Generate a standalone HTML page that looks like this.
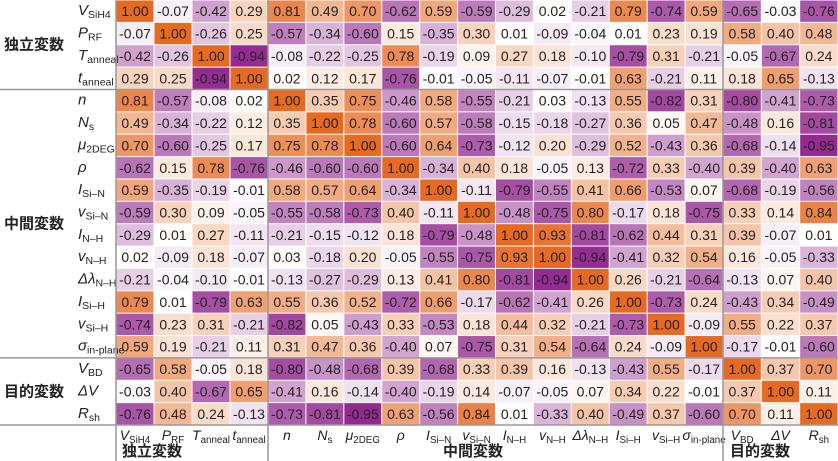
<!DOCTYPE html>
<html><head><meta charset="utf-8"><style>
body{margin:0;background:#fff;}
svg{display:block;font-family:"Liberation Sans","Noto Sans CJK JP",sans-serif;}
</style></head><body>
<svg id="c" width="838" height="461"></svg>
<script>
const rowLabels=[["V","SiH4"],["P","RF"],["T","anneal"],["t","anneal"],["n",""],["N","s"],["μ","2DEG"],["ρ",""],["I","Si–N"],["v","Si–N"],["I","N–H"],["v","N–H"],["Δλ","N–H"],["I","Si–H"],["v","Si–H"],["σ","in-plane"],["V","BD"],["ΔV",""],["R","sh"]];
const groups=[["独立変数",0,4],["中間変数",4,16],["目的変数",16,19]];
const values=[
[1.00,-0.07,-0.42,0.29,0.81,0.49,0.70,-0.62,0.59,-0.59,-0.29,0.02,-0.21,0.79,-0.74,0.59,-0.65,-0.03,-0.76],
[-0.07,1.00,-0.26,0.25,-0.57,-0.34,-0.60,0.15,-0.35,0.30,0.01,-0.09,-0.04,0.01,0.23,0.19,0.58,0.40,0.48],
[-0.42,-0.26,1.00,-0.94,-0.08,-0.22,-0.25,0.78,-0.19,0.09,0.27,0.18,-0.10,-0.79,0.31,-0.21,-0.05,-0.67,0.24],
[0.29,0.25,-0.94,1.00,0.02,0.12,0.17,-0.76,-0.01,-0.05,-0.11,-0.07,-0.01,0.63,-0.21,0.11,0.18,0.65,-0.13],
[0.81,-0.57,-0.08,0.02,1.00,0.35,0.75,-0.46,0.58,-0.55,-0.21,0.03,-0.13,0.55,-0.82,0.31,-0.80,-0.41,-0.73],
[0.49,-0.34,-0.22,0.12,0.35,1.00,0.78,-0.60,0.57,-0.58,-0.15,-0.18,-0.27,0.36,0.05,0.47,-0.48,0.16,-0.81],
[0.70,-0.60,-0.25,0.17,0.75,0.78,1.00,-0.60,0.64,-0.73,-0.12,0.20,-0.29,0.52,-0.43,0.36,-0.68,-0.14,-0.95],
[-0.62,0.15,0.78,-0.76,-0.46,-0.60,-0.60,1.00,-0.34,0.40,0.18,-0.05,0.13,-0.72,0.33,-0.40,0.39,-0.40,0.63],
[0.59,-0.35,-0.19,-0.01,0.58,0.57,0.64,-0.34,1.00,-0.11,-0.79,-0.55,0.41,0.66,-0.53,0.07,-0.68,-0.19,-0.56],
[-0.59,0.30,0.09,-0.05,-0.55,-0.58,-0.73,0.40,-0.11,1.00,-0.48,-0.75,0.80,-0.17,0.18,-0.75,0.33,0.14,0.84],
[-0.29,0.01,0.27,-0.11,-0.21,-0.15,-0.12,0.18,-0.79,-0.48,1.00,0.93,-0.81,-0.62,0.44,0.31,0.39,-0.07,0.01],
[0.02,-0.09,0.18,-0.07,0.03,-0.18,0.20,-0.05,-0.55,-0.75,0.93,1.00,-0.94,-0.41,0.32,0.54,0.16,-0.05,-0.33],
[-0.21,-0.04,-0.10,-0.01,-0.13,-0.27,-0.29,0.13,0.41,0.80,-0.81,-0.94,1.00,0.26,-0.21,-0.64,-0.13,0.07,0.40],
[0.79,0.01,-0.79,0.63,0.55,0.36,0.52,-0.72,0.66,-0.17,-0.62,-0.41,0.26,1.00,-0.73,0.24,-0.43,0.34,-0.49],
[-0.74,0.23,0.31,-0.21,-0.82,0.05,-0.43,0.33,-0.53,0.18,0.44,0.32,-0.21,-0.73,1.00,-0.09,0.55,0.22,0.37],
[0.59,0.19,-0.21,0.11,0.31,0.47,0.36,-0.40,0.07,-0.75,0.31,0.54,-0.64,0.24,-0.09,1.00,-0.17,-0.01,-0.60],
[-0.65,0.58,-0.05,0.18,-0.80,-0.48,-0.68,0.39,-0.68,0.33,0.39,0.16,-0.13,-0.43,0.55,-0.17,1.00,0.37,0.70],
[-0.03,0.40,-0.67,0.65,-0.41,0.16,-0.14,-0.40,-0.19,0.14,-0.07,-0.05,0.07,0.34,0.22,-0.01,0.37,1.00,0.11],
[-0.76,0.48,0.24,-0.13,-0.73,-0.81,-0.95,0.63,-0.56,0.84,0.01,-0.33,0.40,-0.49,0.37,-0.60,0.70,0.11,1.00]];

const svg=document.getElementById('c');
const NS='http://www.w3.org/2000/svg';
const bounds=[116,268,723,838]; // group x boundaries
const rowH=425/19;
function colX(j){let g=j<4?0:(j<16?1:2);let s=[0,4,16][g],n=[4,12,3][g];let w=(bounds[g+1]-bounds[g])/n;return [bounds[g]+(j-s)*w,w];}
function rowY(i){return i*rowH;}
function color(v){const t=Math.min(1,Math.abs(v));const e=v>=0?[230,106,34]:[142,31,138];
 const c=e.map(x=>Math.round(255-(255-x)*t));return `rgb(${c[0]},${c[1]},${c[2]})`;}
function mk(tag,attrs){const el=document.createElementNS(NS,tag);for(const k in attrs)el.setAttribute(k,attrs[k]);svg.appendChild(el);return el;}
function label(x,y,lab,anchor,size){const t=mk('text',{x:x,y:y,'font-size':size,'text-anchor':anchor,fill:'#222'});
 const a=document.createElementNS(NS,'tspan');a.setAttribute('font-style','italic');a.textContent=lab[0];t.appendChild(a);
 if(lab[1]){const b=document.createElementNS(NS,'tspan');b.setAttribute('font-size',size*0.7);b.setAttribute('dy','3');b.textContent=lab[1];t.appendChild(b);}return t;}

for(let i=0;i<19;i++){for(let j=0;j<19;j++){const v=values[i][j];const [x,w]=colX(j);const y=rowY(i);
 const r=mk('rect',{x:x+0.5,y:y+0.5,width:w-1,height:rowH-1,fill:color(v)});
 
 
 const t=mk('text',{x:x+w/2,y:y+rowH/2+5,'font-size':14,'text-anchor':'middle',fill:'#222'});
 t.textContent=v.toFixed(2);
 
 }
 const l=label(78,rowY(i)+rowH/2+4,rowLabels[i],'start',15);
 
 }
for(let j=0;j<19;j++){const [x,w]=colX(j);const l=label(x+w/2,440,rowLabels[j],'middle',14);
 
 }
groups.forEach((g,k)=>{const y0=rowY(g[1]),y1=rowY(g[2]);
 const t=mk('text',{x:4,y:(y0+y1)/2+5,'font-size':15,'font-weight':'bold',fill:'#222'});t.textContent=g[0];
 
 
 const bx=[122,443,730][k];
 const b=mk('text',{x:bx,y:456,'font-size':15,'font-weight':'bold',fill:'#222'});b.textContent=g[0];
 
 });
[rowY(4),rowY(16),425].forEach(y=>{const l=mk('line',{x1:0,x2:838,y1:y,y2:y,stroke:'#999','stroke-width':1.5});
 
 });
[116,268,723].forEach(x=>{const l=mk('line',{x1:x,x2:x,y1:0,y2:461,stroke:'#999','stroke-width':1.5});
 
 });
</script>
</body></html>
